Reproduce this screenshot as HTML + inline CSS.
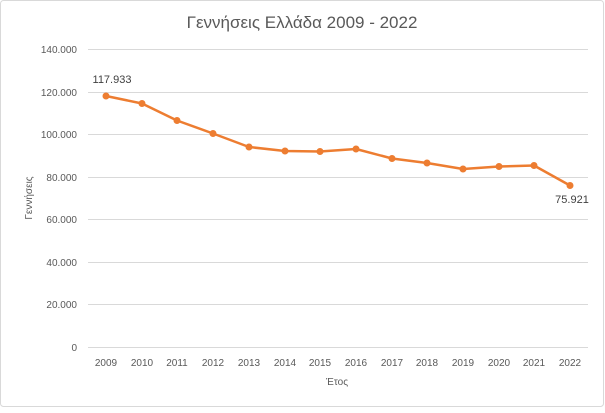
<!DOCTYPE html>
<html><head><meta charset="utf-8"><style>
body{margin:0;background:#fff}
svg text{font-family:"Liberation Sans",sans-serif;fill:#595959}
</style></head><body>
<svg width="605" height="408" xmlns="http://www.w3.org/2000/svg">
<rect x="0.5" y="0.5" width="603" height="406" rx="3" fill="#fff" stroke="#d9d9d9"/>
<text x="302" y="28" font-size="17" text-anchor="middle">Γεννήσεις Ελλάδα 2009 - 2022</text>
<g stroke="#d9d9d9" stroke-width="1">
<line x1="88" x2="588" y1="49.5" y2="49.5"/>
<line x1="88" x2="588" y1="92.5" y2="92.5"/>
<line x1="88" x2="588" y1="134.5" y2="134.5"/>
<line x1="88" x2="588" y1="177.5" y2="177.5"/>
<line x1="88" x2="588" y1="219.5" y2="219.5"/>
<line x1="88" x2="588" y1="262.5" y2="262.5"/>
<line x1="88" x2="588" y1="304.5" y2="304.5"/>
<line x1="88" x2="588" y1="347.5" y2="347.5"/>
</g>
<g font-size="10" text-anchor="end">
<text x="77" y="53">140.000</text>
<text x="77" y="96">120.000</text>
<text x="77" y="138">100.000</text>
<text x="77" y="181">80.000</text>
<text x="77" y="223">60.000</text>
<text x="77" y="266">40.000</text>
<text x="77" y="308">20.000</text>
<text x="77" y="351">0</text>
</g>
<g font-size="10" text-anchor="middle">
<text x="106" y="366">2009</text><text x="142" y="366">2010</text><text x="177" y="366">2011</text><text x="213" y="366">2012</text><text x="249" y="366">2013</text><text x="285" y="366">2014</text><text x="320" y="366">2015</text><text x="356" y="366">2016</text><text x="392" y="366">2017</text><text x="427" y="366">2018</text><text x="463" y="366">2019</text><text x="499" y="366">2020</text><text x="534" y="366">2021</text><text x="570" y="366">2022</text>
</g>
<text x="337" y="385" font-size="10" text-anchor="middle">Έτος</text>
<text transform="translate(32,198) rotate(-90)" font-size="10" text-anchor="middle">Γεννήσεις</text>
<polyline fill="none" stroke="#ed7d31" stroke-width="2.5" stroke-linejoin="round" points="106,96 142,103.5 177,120.5 213,133.5 249,147 285,151 320,151.5 356,149 392,158.5 427,163 463,169 499,166.5 534,165.5 570,185.5"/>
<g fill="#ed7d31">
<circle cx="106" cy="96" r="3.5"/><circle cx="142" cy="103.5" r="3.5"/><circle cx="177" cy="120.5" r="3.5"/><circle cx="213" cy="133.5" r="3.5"/><circle cx="249" cy="147" r="3.5"/><circle cx="285" cy="151" r="3.5"/><circle cx="320" cy="151.5" r="3.5"/><circle cx="356" cy="149" r="3.5"/><circle cx="392" cy="158.5" r="3.5"/><circle cx="427" cy="163" r="3.5"/><circle cx="463" cy="169" r="3.5"/><circle cx="499" cy="166.5" r="3.5"/><circle cx="534" cy="165.5" r="3.5"/><circle cx="570" cy="185.5" r="3.5"/>
</g>
<text x="112" y="83" font-size="11" text-anchor="middle" style="fill:#404040">117.933</text>
<text x="572" y="203" font-size="11" text-anchor="middle" style="fill:#404040">75.921</text>
</svg>
</body></html>
